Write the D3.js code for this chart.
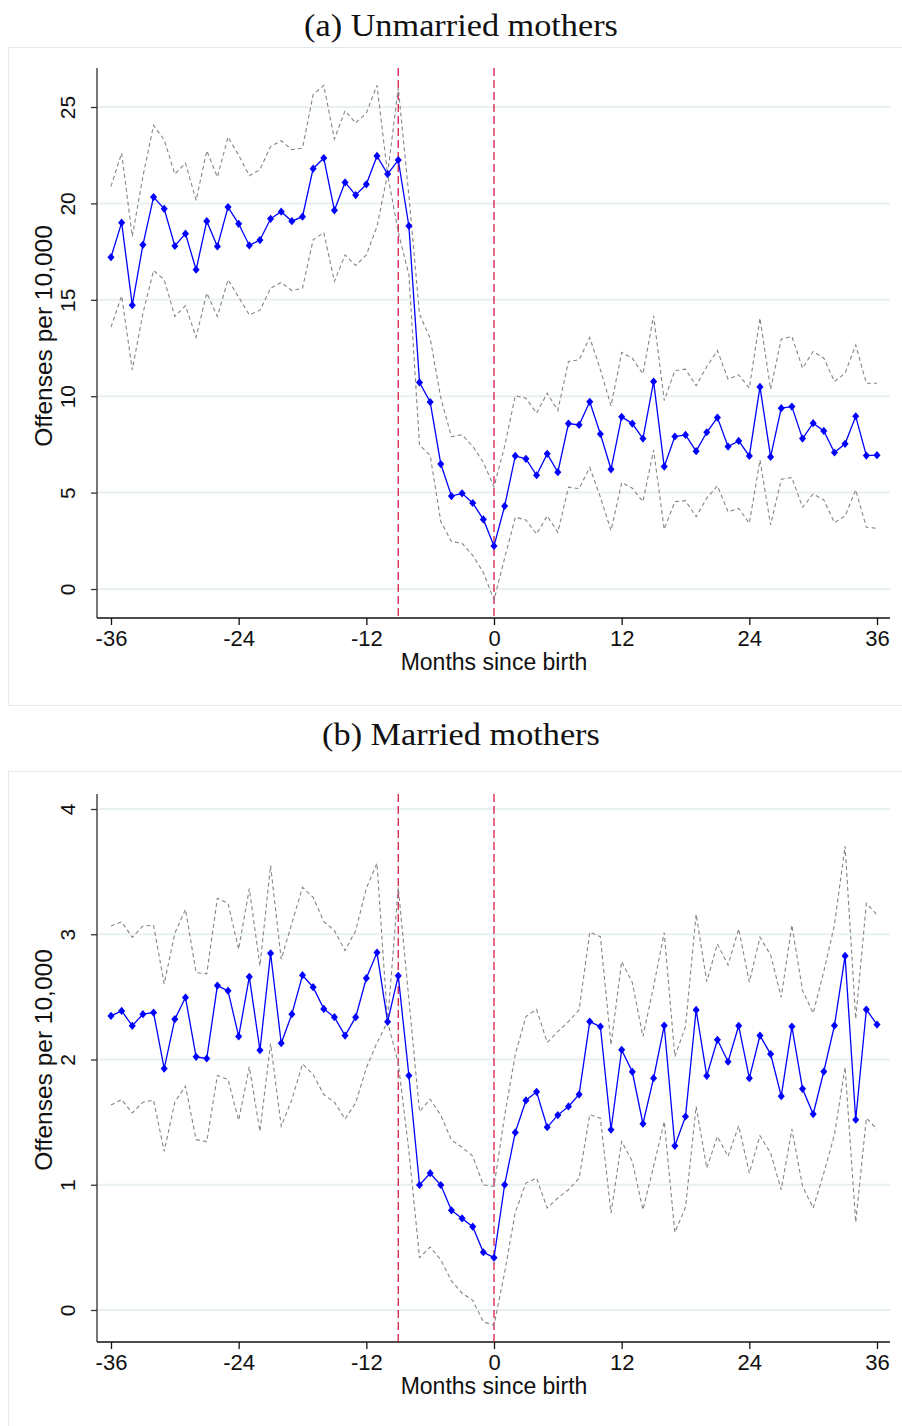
<!DOCTYPE html>
<html>
<head>
<meta charset="utf-8">
<script src="https://cdn.jsdelivr.net/npm/d3@7"></script>
<style>
  html, body { margin: 0; padding: 0; background: #ffffff; }
  svg { display: block; }
</style>
</head>
<body>
<svg id="chart" width="902" height="1426"></svg>
<script>
// Months relative to the birth of the child
const months = [
  -36, -35, -34, -33, -32, -31, -30, -29, -28, -27, -26, -25,
  -24, -23, -22, -21, -20, -19, -18, -17, -16, -15, -14, -13,
  -12, -11, -10, -9, -8, -7, -6, -5, -4, -3, -2, -1,
  0, 1, 2, 3, 4, 5, 6, 7, 8, 9, 10, 11,
  12, 13, 14, 15, 16, 17, 18, 19, 20, 21, 22, 23,
  24, 25, 26, 27, 28, 29, 30, 31, 32, 33, 34, 35, 36
];

// (a) Unmarried mothers: offenses per 10,000 and 95% bounds
const unmarriedRate = [
  17.21, 19.00, 14.72, 17.85, 20.33, 19.72, 17.79, 18.43, 16.56, 19.08, 17.77, 19.81,
  18.94, 17.82, 18.10, 19.20, 19.57, 19.08, 19.31, 21.80, 22.35, 19.64, 21.09, 20.43,
  20.99, 22.46, 21.52, 22.25, 18.83, 10.71, 9.70, 6.48, 4.82, 4.96, 4.46, 3.61,
  2.23, 4.30, 6.90, 6.75, 5.90, 7.01, 6.06, 8.58, 8.51, 9.71, 8.04, 6.21,
  8.93, 8.58, 7.80, 10.76, 6.35, 7.91, 7.99, 7.15, 8.13, 8.89, 7.39, 7.68,
  6.90, 10.48, 6.85, 9.38, 9.46, 7.80, 8.60, 8.20, 7.08, 7.53, 8.96, 6.92, 6.94
];
const unmarriedUpper = [
  20.88, 22.61, 18.29, 21.40, 24.05, 23.30, 21.52, 22.09, 20.16, 22.73, 21.37, 23.44,
  22.50, 21.44, 21.75, 22.96, 23.25, 22.79, 22.87, 25.64, 26.12, 23.34, 24.81, 24.17,
  24.69, 26.12, 21.52, 26.00, 20.40, 14.25, 13.00, 9.90, 7.90, 8.00, 7.40, 6.57,
  5.30, 7.40, 10.02, 9.90, 9.12, 10.16, 9.26, 11.80, 11.89, 13.04, 11.37, 9.50,
  12.27, 11.97, 11.16, 14.17, 9.78, 11.33, 11.40, 10.54, 11.54, 12.37, 10.88, 11.11,
  10.42, 14.05, 10.36, 12.96, 13.10, 11.45, 12.32, 11.97, 10.76, 11.19, 12.66, 10.67, 10.67
];
const unmarriedLower = [
  13.58, 15.20, 11.37, 14.30, 16.52, 16.04, 14.14, 14.69, 13.06, 15.35, 14.14, 16.04,
  15.14, 14.22, 14.45, 15.60, 15.90, 15.48, 15.60, 18.11, 18.49, 15.95, 17.33, 16.78,
  17.33, 18.80, 21.52, 18.50, 16.30, 7.46, 6.93, 3.50, 2.46, 2.37, 1.75, 0.86,
  -0.57, 1.60, 3.72, 3.58, 2.85, 3.79, 2.94, 5.28, 5.21, 6.31, 4.76, 3.03,
  5.52, 5.23, 4.53, 7.21, 3.10, 4.53, 4.58, 3.75, 4.71, 5.35, 4.01, 4.18,
  3.41, 6.69, 3.32, 5.69, 5.78, 4.24, 4.93, 4.62, 3.44, 3.79, 5.14, 3.20, 3.15
];

// (b) Married mothers: offenses per 10,000 and 95% bounds
const marriedRate = [
  2.348, 2.388, 2.269, 2.362, 2.375, 1.928, 2.322, 2.495, 2.021, 2.008, 2.590, 2.548,
  2.184, 2.660, 2.074, 2.848, 2.130, 2.362, 2.673, 2.577, 2.404, 2.338, 2.191, 2.338,
  2.649, 2.854, 2.301, 2.668, 1.872, 0.998, 1.092, 0.998, 0.796, 0.731, 0.665, 0.461,
  0.418, 1.000, 1.418, 1.673, 1.742, 1.460, 1.556, 1.625, 1.721, 2.303, 2.263, 1.439,
  2.077, 1.902, 1.487, 1.851, 2.271, 1.311, 1.545, 2.396, 1.870, 2.157, 1.982, 2.269,
  1.851, 2.191, 2.043, 1.707, 2.263, 1.766, 1.564, 1.904, 2.271, 2.827, 1.519, 2.399, 2.279
];
const marriedUpper = [
  3.066, 3.098, 2.976, 3.066, 3.072, 2.604, 3.008, 3.199, 2.694, 2.684, 3.287, 3.247,
  2.880, 3.364, 2.747, 3.548, 2.800, 3.088, 3.375, 3.295, 3.101, 3.029, 2.870, 3.029,
  3.367, 3.566, 2.301, 3.375, 2.480, 1.584, 1.683, 1.555, 1.356, 1.300, 1.228, 0.998,
  0.987, 1.550, 2.040, 2.343, 2.400, 2.136, 2.223, 2.303, 2.396, 3.016, 2.981, 2.117,
  2.782, 2.614, 2.184, 2.582, 3.013, 2.024, 2.263, 3.160, 2.622, 2.923, 2.755, 3.043,
  2.617, 2.976, 2.835, 2.497, 3.074, 2.551, 2.370, 2.702, 3.074, 3.705, 2.324, 3.247, 3.154
];
const marriedLower = [
  1.637, 1.680, 1.573, 1.659, 1.675, 1.267, 1.659, 1.787, 1.360, 1.344, 1.872, 1.840,
  1.515, 1.941, 1.427, 2.128, 1.467, 1.680, 1.965, 1.880, 1.720, 1.659, 1.525, 1.653,
  1.933, 2.133, 2.301, 1.970, 1.270, 0.418, 0.503, 0.400, 0.233, 0.134, 0.077, -0.094,
  -0.122, 0.300, 0.780, 1.013, 1.053, 0.814, 0.894, 0.960, 1.053, 1.559, 1.532, 0.774,
  1.346, 1.186, 0.800, 1.146, 1.505, 0.620, 0.820, 1.625, 1.133, 1.386, 1.226, 1.471,
  1.093, 1.391, 1.253, 0.960, 1.444, 0.987, 0.814, 1.093, 1.399, 1.939, 0.700, 1.532, 1.444
];

// Reference lines: conception (-9) and birth (0)
const eventMonths = [-9, 0];

// Tick labels
const monthTicks = [-36, -24, -12, 0, 12, 24, 36];
const unmarriedTicks = [0, 5, 10, 15, 20, 25];
const marriedTicks = [0, 1, 2, 3, 4];

const panelTitles = ["(a) Unmarried mothers", "(b) Married mothers"];
const xTitle = "Months since birth";
const yTitle = "Offenses per 10,000";

const svg = d3.select("#chart");
const SANS = "'Liberation Sans', Arial, Helvetica, sans-serif";
const SERIF = "'Liberation Serif', 'Times New Roman', serif";

const plotLeft = 97, plotRight = 890;
const x = d3.scaleLinear().domain([-36, 36]).range([111, 877]);

// Filled diamond marker, slightly taller than wide
const diamond = {
  draw(ctx, size) {
    const h = Math.sqrt(size) * 0.75, w = h * 0.86;
    ctx.moveTo(0, -h); ctx.lineTo(w, 0); ctx.lineTo(0, h); ctx.lineTo(-w, 0); ctx.closePath();
  }
};

function drawPanel(opt) {
  const g = svg.append("g");
  const y = d3.scaleLinear().domain(opt.domain).range(opt.range);

  // outer frame
  g.append("rect")
    .attr("x", 8.5).attr("y", opt.boxTop + 0.5)
    .attr("width", 920).attr("height", opt.boxHeight)
    .attr("fill", "none").attr("stroke", "#e3eaed").attr("stroke-width", 1);

  // title, widened a little to the proportions of a book face
  const title = g.append("text")
    .attr("x", 461).attr("y", opt.titleY)
    .attr("text-anchor", "middle")
    .attr("font-family", SERIF).attr("font-size", 31)
    .attr("fill", "#111")
    .text(opt.title);
  const natural = title.node().getComputedTextLength();
  title.attr("textLength", natural * 1.105).attr("lengthAdjust", "spacingAndGlyphs");

  // horizontal grid
  g.append("g").selectAll("line").data(opt.ticks).join("line")
    .attr("x1", plotLeft).attr("x2", plotRight)
    .attr("y1", d => y(d)).attr("y2", d => y(d))
    .attr("stroke", "#e9f0f3").attr("stroke-width", 2);

  // y axis
  const yAxis = g.append("g")
    .attr("transform", `translate(${plotLeft},0)`)
    .call(d3.axisLeft(y).tickValues(opt.ticks).tickSize(6).tickFormat(d3.format("d")));
  yAxis.select(".domain")
    .attr("d", `M0,${opt.top}V${opt.bottom}`)
    .attr("stroke", "#555").attr("stroke-width", 1.6);
  yAxis.selectAll(".tick line").attr("stroke", "#333").attr("stroke-width", 1.3);
  yAxis.selectAll(".tick text")
    .attr("x", null).attr("dy", null)
    .attr("transform", "translate(-22,0) rotate(-90)")
    .attr("text-anchor", "middle")
    .attr("font-family", SANS).attr("font-size", 21).attr("fill", "#111");

  // x axis
  const xAxis = g.append("g")
    .attr("transform", `translate(0,${opt.bottom})`)
    .call(d3.axisBottom(x).tickValues(monthTicks).tickSize(7).tickPadding(5).tickFormat(d3.format("d")));
  xAxis.select(".domain")
    .attr("d", `M${plotLeft},0H${plotRight}`)
    .attr("stroke", "#111").attr("stroke-width", 1.6);
  xAxis.selectAll(".tick line").attr("stroke", "#111").attr("stroke-width", 1.3);
  xAxis.selectAll(".tick text")
    .attr("font-family", SANS).attr("font-size", 22).attr("fill", "#111")
    .text(d => d < 0 ? "-" + Math.abs(d) : d);

  // axis titles
  g.append("text")
    .attr("x", 494).attr("y", opt.bottom + 52)
    .attr("text-anchor", "middle")
    .attr("font-family", SANS).attr("font-size", 23).attr("fill", "#111")
    .text(xTitle);
  g.append("text")
    .attr("transform", `translate(52,${opt.yTitleMid}) rotate(-90)`)
    .attr("text-anchor", "middle")
    .attr("font-family", SANS).attr("font-size", 24.5).attr("fill", "#111")
    .text(yTitle);

  // conception / birth reference lines
  g.append("g").selectAll("line").data(eventMonths).join("line")
    .attr("x1", d => x(d)).attr("x2", d => x(d))
    .attr("y1", opt.top).attr("y2", opt.bottom)
    .attr("stroke", "#d81c48").attr("stroke-width", 1.3)
    .attr("stroke-dasharray", "8,4");

  // confidence bounds
  const seriesLine = d3.line().x((d, i) => x(months[i])).y(d => y(d));
  [opt.upper, opt.lower].forEach(series => {
    g.append("path").datum(series)
      .attr("d", seriesLine)
      .attr("fill", "none").attr("stroke", "#858585")
      .attr("stroke-width", 1.1).attr("stroke-dasharray", "4,3");
  });

  // point estimates
  g.append("path").datum(opt.rate)
    .attr("d", seriesLine)
    .attr("fill", "none").attr("stroke", "#0000ff").attr("stroke-width", 1.3);
  g.append("g").selectAll("path").data(opt.rate).join("path")
    .attr("transform", (d, i) => `translate(${x(months[i])},${y(d)})`)
    .attr("d", d3.symbol().type(diamond).size(30))
    .attr("fill", "#0000ff");
}

drawPanel({
  title: panelTitles[0], titleY: 36, boxTop: 47, boxHeight: 658,
  domain: [0, 25], range: [589, 107], top: 68, bottom: 618, yTitleMid: 336,
  ticks: unmarriedTicks, rate: unmarriedRate, upper: unmarriedUpper, lower: unmarriedLower
});

drawPanel({
  title: panelTitles[1], titleY: 745, boxTop: 771, boxHeight: 700,
  domain: [0, 4], range: [1310, 809], top: 794, bottom: 1342, yTitleMid: 1060,
  ticks: marriedTicks, rate: marriedRate, upper: marriedUpper, lower: marriedLower
});
</script>
</body>
</html>
